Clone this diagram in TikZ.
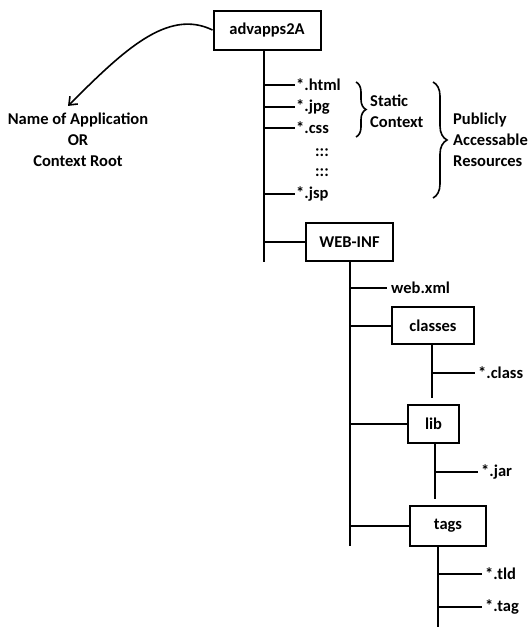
\documentclass[tikz,border=0pt]{standalone}
\usepackage{fontspec}
\setmainfont{Carlito}
\usetikzlibrary{positioning, arrows.meta, decorations.pathreplacing}
\tikzstyle{folder} = [rectangle, draw=black, line width=2pt, font=\bfseries\fontsize{16.5}{20}\selectfont, inner sep=2pt]
\tikzstyle{file} = [anchor=west, inner sep=1pt, font=\bfseries\fontsize{16.5}{20}\selectfont]
\tikzstyle{note} = [inner sep=1pt, font=\bfseries\fontsize{16.5}{21}\selectfont]
\tikzstyle{link} = [line width=2pt, -]
\tikzstyle{arrow} = [line width=1.6pt, -{Straight Barb[length=7pt, width=11pt]}]
\tikzstyle{curly} = [line width=1.6pt, decorate, decoration={brace, amplitude=10pt}]

\begin{document}
\begin{tikzpicture}[x=1pt, y=-1pt]
    \useasboundingbox (0,0) rectangle (530,627);
    % root of the application
    \node (root) [folder, minimum width=107pt, minimum height=39pt] at (267,30) {advapps2A};
    \node (appname) [note, align=center] at (78,140) {Name of Application\\OR\\Context Root};
    \draw [arrow] (root.west) .. controls +(-45,-22) and +(55,-55) .. ([xshift=-10pt, yshift=6pt]appname.north);
    \coordinate (rootEnd) at (264,262);
    \draw [link] (root.south -| rootEnd) -- (rootEnd);
    % static files
    \node (html) [file] at (295,85) {*.html};
    \node (jpg) [file] at (295,107) {*.jpg};
    \node (css) [file] at (295,128) {*.css};
    \node (dotsA) [note] at (322,153) {:::};
    \node (dotsB) [note] at (322,173) {:::};
    \node (jsp) [file] at (295,194) {*.jsp};
    \foreach \f in {html, jpg, css, jsp}
        \draw [link] (rootEnd |- \f.west) -- (\f.west);
    \coordinate (staticTop) at (356,82);
    \coordinate (staticBot) at (356,137);
    \draw [curly] (staticTop) -- (staticBot);
    \node (static) [note, anchor=west, align=left] at (369,111) {Static\\Context};
    \coordinate (publicTop) at (433,82);
    \coordinate (publicBot) at (433,198);
    \draw [curly, decoration={amplitude=14pt}] (publicTop) -- (publicBot);
    \node (public) [note, anchor=west, align=left] at (452,140) {Publicly\\Accessable\\Resources};
    % WEB-INF folder
    \node (webinf) [folder, minimum width=87pt, minimum height=38pt] at (349.5,242) {WEB-INF};
    \draw [link] (rootEnd |- webinf.west) -- (webinf.west);
    \coordinate (webinfEnd) at (350,546);
    \draw [link] (webinf.south -| webinfEnd) -- (webinfEnd);
    \node (webxml) [file, inner sep=4pt] at (387,288) {web.xml};
    \draw [link] (webinfEnd |- webxml.west) -- (webxml.west);
    % classes
    \node (classes) [folder, minimum width=82pt, minimum height=37pt] at (433,325.5) {classes};
    \draw [link] (webinfEnd |- classes.west) -- (classes.west);
    \coordinate (classesEnd) at (432,398);
    \draw [link] (classes.south -| classesEnd) -- (classesEnd);
    \node (class) [file, inner sep=3pt] at (475,373) {*.class};
    \draw [link] (classesEnd |- class.west) -- (class.west);
    % lib
    \node (lib) [folder, minimum width=51pt, minimum height=38pt] at (433.5,424) {lib};
    \draw [link] (webinfEnd |- lib.west) -- (lib.west);
    \coordinate (libEnd) at (435,499);
    \draw [link] (lib.south -| libEnd) -- (libEnd);
    \node (jar) [file, inner sep=3pt] at (478,472) {*.jar};
    \draw [link] (libEnd |- jar.west) -- (jar.west);
    % tags
    \node (tags) [folder, minimum width=76pt, minimum height=40pt] at (448,526) {tags};
    \draw [link] (webinfEnd |- tags.west) -- (tags.west);
    \coordinate (tagsEnd) at (438,627);
    \draw [link] (tags.south -| tagsEnd) -- (tagsEnd);
    \node (tld) [file, inner sep=3pt] at (482,574) {*.tld};
    \node (tag) [file, inner sep=3pt] at (482,607) {*.tag};
    \draw [link] (tagsEnd |- tld.west) -- (tld.west);
    \draw [link] (tagsEnd |- tag.west) -- (tag.west);
\end{tikzpicture}
\end{document}
